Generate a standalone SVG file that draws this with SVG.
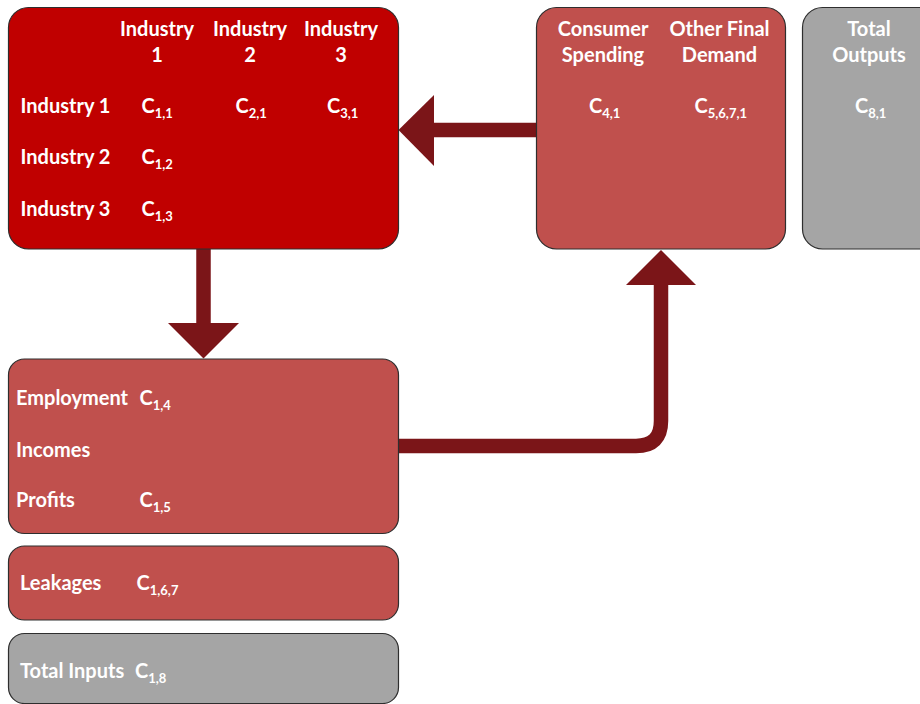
<svg xmlns="http://www.w3.org/2000/svg" width="920" height="704" viewBox="0 0 920 704">
<style>
.box{stroke:#2e2e2e;stroke-width:1.2}
.red{fill:#C00000}
.rose{fill:#C0504D}
.gray{fill:#A5A5A5}
text{font-family:Lato,"Open Sans","Liberation Sans",sans-serif;font-weight:700;font-size:20px;fill:#ffffff}
.c{text-anchor:middle}
.sub{font-size:13px}
.shaft{fill:none;stroke:#7B1518;stroke-width:14.5}
.head{fill:#7B1518}
</style>
<rect width="920" height="704" fill="#ffffff"/>
<g id="connectors">
<line class="shaft" x1="203.5" y1="249" x2="203.5" y2="325"/>
<polygon class="head" points="168,323 239,323 203.5,358.5"/>
<line class="shaft" x1="537" y1="130" x2="432" y2="130"/>
<polygon class="head" points="434,95 434,166 398.5,130"/>
<path class="shaft" d="M398 446 H636 Q661 446 661 421 V283"/>
<polygon class="head" points="626,285 696,285 661,250"/>
</g>
<g id="industries">
<rect class="box red" x="8.5" y="7.5" width="390" height="241.5" rx="20"/>
<text class="c" x="157" y="36">Industry</text>
<text class="c" x="157" y="62">1</text>
<text class="c" x="250" y="36">Industry</text>
<text class="c" x="250" y="62">2</text>
<text class="c" x="341" y="36">Industry</text>
<text class="c" x="341" y="62">3</text>
<text x="20.5" y="113">Industry 1</text>
<text x="20.5" y="164">Industry 2</text>
<text x="20.5" y="216">Industry 3</text>
<text x="141.5" y="113">C<tspan class="sub" dy="5">1,1</tspan></text>
<text x="235.5" y="113">C<tspan class="sub" dy="5">2,1</tspan></text>
<text x="327" y="113">C<tspan class="sub" dy="5">3,1</tspan></text>
<text x="141.5" y="164">C<tspan class="sub" dy="5">1,2</tspan></text>
<text x="141.5" y="216">C<tspan class="sub" dy="5">1,3</tspan></text>
</g>
<g id="final-demand">
<rect class="box rose" x="536.5" y="7.5" width="249" height="241.5" rx="20"/>
<text class="c" x="603" y="36">Consumer</text>
<text class="c" x="603" y="62">Spending</text>
<text class="c" x="719.5" y="36">Other Final</text>
<text class="c" x="719.5" y="62">Demand</text>
<text x="589" y="113">C<tspan class="sub" dy="5">4,1</tspan></text>
<text x="694.5" y="113">C<tspan class="sub" dy="5">5,6,7,1</tspan></text>
</g>
<g id="total-outputs">
<rect class="box gray" x="802.5" y="7.5" width="140" height="241.5" rx="20"/>
<text class="c" x="869" y="36">Total</text>
<text class="c" x="869" y="62">Outputs</text>
<text x="855" y="113">C<tspan class="sub" dy="5">8,1</tspan></text>
</g>
<g id="value-added">
<rect class="box rose" x="8.5" y="359" width="390" height="174.5" rx="16"/>
<text x="16" y="405">Employment</text>
<text x="139.5" y="405">C<tspan class="sub" dy="5">1,4</tspan></text>
<text x="16" y="456.5">Incomes</text>
<text x="16" y="507">Profits</text>
<text x="139.5" y="507">C<tspan class="sub" dy="5">1,5</tspan></text>
</g>
<g id="leakages">
<rect class="box rose" x="8.5" y="546" width="390" height="74" rx="16"/>
<text x="20" y="590">Leakages</text>
<text x="136.5" y="590">C<tspan class="sub" dy="5">1,6,7</tspan></text>
</g>
<g id="total-inputs">
<rect class="box gray" x="8.5" y="633.5" width="390" height="70" rx="16"/>
<text x="20" y="678">Total Inputs</text>
<text x="135" y="678">C<tspan class="sub" dy="5">1,8</tspan></text>
</g>
</svg>
